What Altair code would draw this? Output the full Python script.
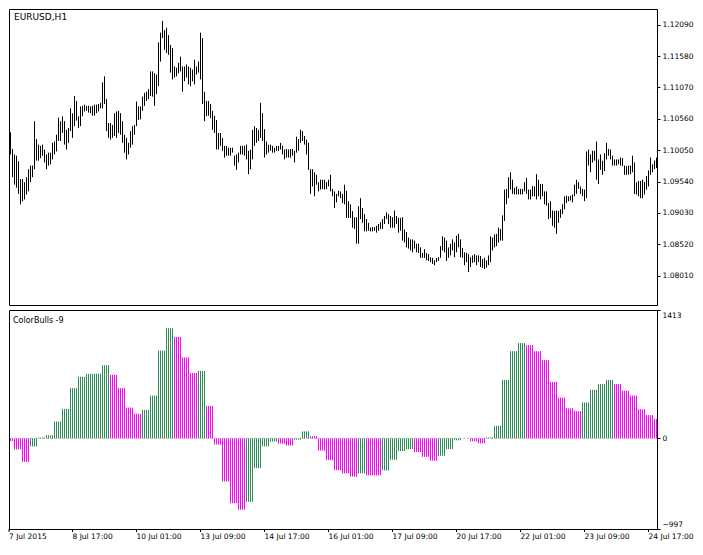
import altair as alt
import pandas as pd

# ---------------- data ----------------
# EURUSD H1 bars (7 Jul 10:00 ... 24 Jul 21:00), high / low
high = [
    1.1034, 1.1007, 1.0998, 1.0996, 1.0987, 1.0958, 1.0958, 1.0953, 1.0961, 1.0974,
    1.0980, 1.0980, 1.1052, 1.1023, 1.1014, 1.1012, 1.1014, 1.1006, 1.0998, 1.1001,
    1.1001, 1.1017, 1.1019, 1.1030, 1.1058, 1.1052, 1.1060, 1.1052, 1.1038, 1.1041,
    1.1073, 1.1065, 1.1093, 1.1085, 1.1060, 1.1076, 1.1077, 1.1079, 1.1077, 1.1077,
    1.1076, 1.1077, 1.1079, 1.1079, 1.1080, 1.1082, 1.1115, 1.1125, 1.1088, 1.1049,
    1.1049, 1.1046, 1.1065, 1.1068, 1.1069, 1.1065, 1.1052, 1.1030, 1.1025, 1.1017,
    1.1036, 1.1044, 1.1046, 1.1084, 1.1076, 1.1076, 1.1092, 1.1098, 1.1100, 1.1104,
    1.1133, 1.1133, 1.1130, 1.1128, 1.1180, 1.1196, 1.1215, 1.1200, 1.1204, 1.1192,
    1.1176, 1.1171, 1.1141, 1.1139, 1.1147, 1.1157, 1.1141, 1.1141, 1.1144, 1.1141,
    1.1139, 1.1136, 1.1152, 1.1141, 1.1149, 1.1196, 1.1187, 1.1100, 1.1085, 1.1085,
    1.1080, 1.1069, 1.1061, 1.1054, 1.1033, 1.1033, 1.1025, 1.1012, 1.1012, 1.1009,
    1.1009, 1.1009, 1.0996, 1.0998, 1.1001, 1.1012, 1.1012, 1.1012, 1.1014, 1.1004,
    1.1006, 1.1038, 1.1044, 1.1041, 1.1038, 1.1082, 1.1065, 1.1039, 1.1019, 1.1014,
    1.1014, 1.1012, 1.1009, 1.1012, 1.1012, 1.1017, 1.1012, 1.1006, 1.1007, 1.1006,
    1.1007, 1.1007, 1.1004, 1.1027, 1.1023, 1.1038, 1.1036, 1.1028, 1.1022, 1.1017,
    1.0974, 1.0974, 1.0969, 1.0965, 1.0953, 1.0957, 1.0957, 1.0957, 1.0953, 1.0957,
    1.0965, 1.0942, 1.0938, 1.0934, 1.0939, 1.0938, 1.0934, 1.0949, 1.0939, 1.0922,
    1.0917, 1.0906, 1.0896, 1.0896, 1.0914, 1.0927, 1.0911, 1.0901, 1.0893, 1.0887,
    1.0879, 1.0880, 1.0880, 1.0882, 1.0885, 1.0888, 1.0893, 1.0898, 1.0904, 1.0901,
    1.0898, 1.0896, 1.0907, 1.0898, 1.0895, 1.0895, 1.0896, 1.0876, 1.0872, 1.0863,
    1.0860, 1.0860, 1.0858, 1.0853, 1.0853, 1.0847, 1.0838, 1.0844, 1.0838, 1.0836,
    1.0831, 1.0830, 1.0826, 1.0830, 1.0831, 1.0849, 1.0865, 1.0863, 1.0858, 1.0847,
    1.0853, 1.0860, 1.0855, 1.0866, 1.0869, 1.0860, 1.0846, 1.0839, 1.0838, 1.0836,
    1.0831, 1.0834, 1.0836, 1.0834, 1.0834, 1.0833, 1.0828, 1.0830, 1.0826, 1.0834,
    1.0865, 1.0863, 1.0868, 1.0869, 1.0879, 1.0877, 1.0899, 1.0941, 1.0942, 1.0961,
    1.0969, 1.0957, 1.0944, 1.0946, 1.0942, 1.0942, 1.0942, 1.0953, 1.0960, 1.0941,
    1.0941, 1.0947, 1.0946, 1.0966, 1.0957, 1.0950, 1.0950, 1.0938, 1.0938, 1.0919,
    1.0922, 1.0907, 1.0906, 1.0907, 1.0906, 1.0909, 1.0917, 1.0930, 1.0931, 1.0930,
    1.0931, 1.0933, 1.0949, 1.0957, 1.0953, 1.0946, 1.0942, 1.0941, 1.1003, 1.1006,
    1.0998, 1.1004, 1.1004, 1.1019, 1.0990, 1.0998, 1.0988, 1.1000, 1.1017, 1.1007,
    1.1006, 1.0996, 1.0990, 1.0990, 1.0990, 1.0993, 1.0992, 1.0980, 1.0979, 1.0980,
    1.0980, 1.0996, 1.0985, 1.0953, 1.0955, 1.0955, 1.0957, 1.0953, 1.0963, 1.0972,
    1.0993, 1.0982, 1.0988, 1.0993,
]
low = [
    1.0998, 1.0961, 1.0949, 1.0944, 1.0934, 1.0917, 1.0922, 1.0925, 1.0933, 1.0938,
    1.0953, 1.0961, 1.0974, 1.0988, 1.0988, 1.0992, 1.0996, 1.0985, 1.0974, 1.0980,
    1.0982, 1.0990, 1.0998, 1.1003, 1.1020, 1.1020, 1.1033, 1.1014, 1.1006, 1.1017,
    1.1036, 1.1025, 1.1044, 1.1053, 1.1041, 1.1044, 1.1060, 1.1068, 1.1069, 1.1066,
    1.1065, 1.1061, 1.1061, 1.1065, 1.1068, 1.1073, 1.1073, 1.1080, 1.1036, 1.1025,
    1.1022, 1.1025, 1.1028, 1.1025, 1.1033, 1.1030, 1.1017, 1.1001, 1.0990, 1.0998,
    1.1009, 1.1014, 1.1030, 1.1044, 1.1054, 1.1055, 1.1069, 1.1077, 1.1085, 1.1088,
    1.1093, 1.1092, 1.1077, 1.1096, 1.1109, 1.1149, 1.1187, 1.1168, 1.1163, 1.1160,
    1.1131, 1.1120, 1.1123, 1.1125, 1.1130, 1.1133, 1.1100, 1.1117, 1.1123, 1.1112,
    1.1109, 1.1117, 1.1112, 1.1128, 1.1131, 1.1120, 1.1080, 1.1052, 1.1060, 1.1061,
    1.1057, 1.1038, 1.1033, 1.1006, 1.1006, 1.1012, 1.1004, 1.0993, 1.0996, 1.0996,
    1.0996, 1.1001, 1.0980, 1.0973, 1.0985, 1.0998, 1.0998, 1.0996, 1.0990, 1.0966,
    1.0974, 1.0990, 1.1012, 1.1017, 1.1020, 1.1025, 1.1020, 1.0993, 1.0998, 1.1001,
    1.1004, 1.1001, 1.1001, 1.1004, 1.1004, 1.1006, 1.0998, 1.0990, 1.0993, 1.0993,
    1.0993, 1.0996, 1.0985, 1.1001, 1.1004, 1.1017, 1.1020, 1.1014, 1.0998, 1.0973,
    1.0934, 1.0946, 1.0930, 1.0949, 1.0938, 1.0941, 1.0942, 1.0941, 1.0942, 1.0946,
    1.0938, 1.0930, 1.0911, 1.0920, 1.0930, 1.0927, 1.0919, 1.0917, 1.0895, 1.0895,
    1.0895, 1.0879, 1.0877, 1.0853, 1.0853, 1.0893, 1.0887, 1.0873, 1.0873, 1.0874,
    1.0873, 1.0873, 1.0874, 1.0871, 1.0874, 1.0877, 1.0877, 1.0885, 1.0893, 1.0885,
    1.0879, 1.0879, 1.0879, 1.0885, 1.0871, 1.0874, 1.0858, 1.0855, 1.0847, 1.0845,
    1.0842, 1.0839, 1.0845, 1.0839, 1.0838, 1.0830, 1.0830, 1.0830, 1.0826, 1.0825,
    1.0823, 1.0820, 1.0818, 1.0823, 1.0825, 1.0830, 1.0842, 1.0839, 1.0825, 1.0830,
    1.0834, 1.0842, 1.0831, 1.0839, 1.0847, 1.0831, 1.0830, 1.0818, 1.0823, 1.0807,
    1.0815, 1.0822, 1.0823, 1.0818, 1.0823, 1.0815, 1.0814, 1.0812, 1.0814, 1.0818,
    1.0823, 1.0842, 1.0847, 1.0849, 1.0855, 1.0858, 1.0858, 1.0890, 1.0917, 1.0927,
    1.0941, 1.0934, 1.0933, 1.0933, 1.0933, 1.0933, 1.0933, 1.0938, 1.0934, 1.0925,
    1.0925, 1.0930, 1.0930, 1.0925, 1.0930, 1.0925, 1.0930, 1.0917, 1.0915, 1.0893,
    1.0895, 1.0882, 1.0879, 1.0869, 1.0887, 1.0895, 1.0901, 1.0909, 1.0919, 1.0922,
    1.0923, 1.0920, 1.0930, 1.0934, 1.0942, 1.0934, 1.0930, 1.0922, 1.0927, 1.0980,
    1.0969, 1.0985, 1.0988, 1.0957, 1.0950, 1.0973, 1.0965, 1.0971, 1.0990, 1.0996,
    1.0990, 1.0980, 1.0980, 1.0980, 1.0982, 1.0980, 1.0979, 1.0965, 1.0965, 1.0965,
    1.0966, 1.0969, 1.0934, 1.0933, 1.0930, 1.0927, 1.0927, 1.0933, 1.0941, 1.0946,
    1.0965, 1.0969, 1.0974, 1.0976,
]

# ColorBulls(-9) values, one per H4 block (each block spans 4 H1 bars)
bulls = [
    -29, -121, -260, -89, 10, 36, 186, 325, 553, 678,
    710, 713, 806, 699, 553, 339, 271, 314, 471, 966,
    1213, 1116, 892, 720, 742, 357, -68, -474, -713, -785,
    -699, -328, -89, -36, -57, -78, -14, 78, 25, -135,
    -239, -350, -385, -421, -385, -407, -407, -353, -235, -139,
    -118, -150, -203, -246, -193, -118, -21, 0, -32, -54,
    11, 139, 642, 960, 1049, 1027, 960, 863, 621, 449,
    332, 300, 396, 535, 599, 642, 599, 524, 471, 321,
    257, 214,
]

tick_pos = [-0.75, 31, 63, 95, 127, 159, 191, 223, 255, 287, 319]
tick_lbl = ["7 Jul 2015", "8 Jul 17:00", "10 Jul 01:00", "13 Jul 09:00",
            "14 Jul 17:00", "16 Jul 01:00", "17 Jul 09:00", "20 Jul 17:00",
            "22 Jul 01:00", "23 Jul 09:00", "24 Jul 17:00"]
price_ticks = [1.12090, 1.11580, 1.11070, 1.10560, 1.10050,
               1.09540, 1.09030, 1.08520, 1.08010]
price_range = [1.07534, 1.12344]
ind_ticks = [1413, 0, -997]
ind_range = [-997, 1413]

# ---------------- tables ----------------
n = len(high)
idx = list(range(n))
bars_df = pd.DataFrame({"i": idx, "high": high, "low": low})

block = [(i + 2) // 4 for i in idx]
hist_df = pd.DataFrame({
    "i": idx,
    "v": [bulls[b] for b in block],
    "z": [0] * n,
    "dir": ["up" if b > 0 and bulls[b] > bulls[b - 1] else "down" for b in block],
})

FONT = "DejaVu Sans"
GREEN = "#2E8B57"
MAGENTA = "#FF00FF"
W = 648
H_TOP = 296
H_BOT = 219

label_expr = "''"
for p, t in reversed(list(zip(tick_pos, tick_lbl))):
    label_expr = f"datum.value == {p} ? '{t}' : ({label_expr})"

x_scale = alt.Scale(domain=[-0.75, 323.25], nice=False, zero=False)
price_scale = alt.Scale(domain=price_range, nice=False, zero=False)
ind_scale = alt.Scale(domain=ind_range, nice=False, zero=False)

# ---------------- top panel ----------------
price_rules = alt.Chart(bars_df).mark_rule(color="black", strokeWidth=1).encode(
    x=alt.X("i:Q", scale=x_scale, axis=None),
    y=alt.Y("low:Q", scale=price_scale,
            axis=alt.Axis(orient="right", values=price_ticks, format=".5f", title=None,
                          tickSize=3, labelPadding=2, labelFlush=False, labelOverlap=False,
                          labelFontSize=7.5)),
    y2="high:Q",
)
top_label = alt.Chart(pd.DataFrame({"t": ["EURUSD,H1"]})).mark_text(
    align="left", baseline="alphabetic", font=FONT, fontSize=9, color="black"
).encode(text="t:N", x=alt.value(5), y=alt.value(10.5))

top = alt.layer(price_rules, top_label).properties(width=W, height=H_TOP)

# ---------------- bottom panel ----------------
zero_line = alt.Chart(pd.DataFrame({"z": [0]})).mark_rule(
    color="#B4B4B4", strokeDash=[2, 2], strokeWidth=1
).encode(y=alt.Y("z:Q", scale=ind_scale))

hist_rules = alt.Chart(hist_df).mark_rule(strokeWidth=1).encode(
    x=alt.X("i:Q", scale=x_scale,
            axis=alt.Axis(values=tick_pos, labelExpr=label_expr, title=None,
                          tickSize=3, labelPadding=1, labelAlign="left",
                          labelBaseline="top", labelFlush=False, labelOverlap=False,
                          labelFontSize=7.5, translate=0, tickRound=False)),
    y=alt.Y("v:Q", scale=ind_scale,
            axis=alt.Axis(orient="right", values=ind_ticks, title=None, format="d",
                          tickSize=3, labelPadding=2, labelFlush=False, labelOverlap=False,
                          labelFontSize=7.5,
                          labelOffset={"condition": [
                              {"test": "datum.value > 1000", "value": 5},
                              {"test": "datum.value < -500", "value": -5}],
                              "value": 0})),
    y2="z:Q",
    color=alt.Color("dir:N", scale=alt.Scale(domain=["up", "down"], range=[GREEN, MAGENTA]),
                    legend=None),
)
bottom_label = alt.Chart(pd.DataFrame({"t": ["ColorBulls -9"]})).mark_text(
    align="left", baseline="alphabetic", font=FONT, fontSize=8, color="black"
).encode(text="t:N", x=alt.value(4), y=alt.value(12.5))

bottom = alt.layer(zero_line, hist_rules, bottom_label).properties(width=W, height=H_BOT)

chart = alt.vconcat(top, bottom, spacing=3).properties(
    padding=0, background="white"
).configure_axis(
    labelFont=FONT, labelFontSize=8, labelColor="black", tickColor="black",
    tickWidth=1, domain=False, grid=False
).configure_view(stroke="black", strokeWidth=1)

chart.save("out.html", embed_options={"renderer": "svg", "actions": False})
